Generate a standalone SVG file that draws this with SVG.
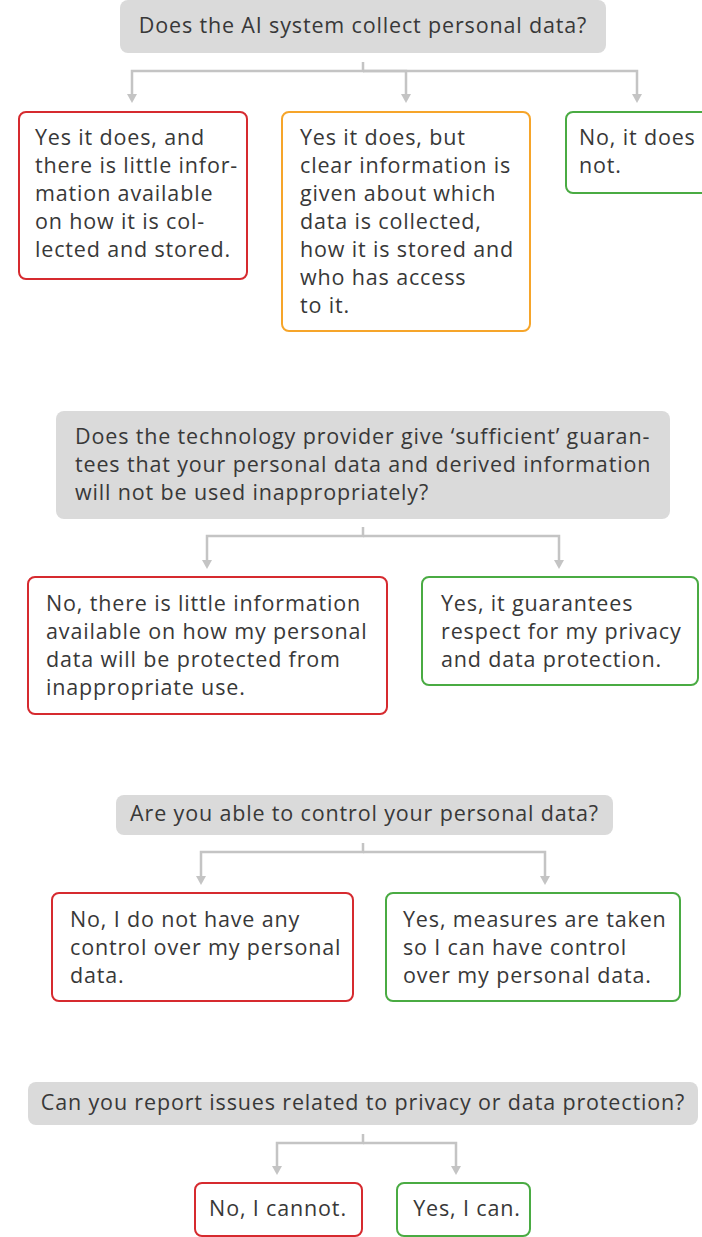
<svg xmlns="http://www.w3.org/2000/svg" width="702" height="1237" viewBox="0 0 702 1237">
<style>
text{font-family:"Open Sans","Liberation Sans",sans-serif;font-size:21.5px;letter-spacing:0.85px;fill:#383838}
.q{fill:#dadada;stroke:none}
.r{fill:#fff;stroke:#d62a2f;stroke-width:2}
.o{fill:#fff;stroke:#f6a52a;stroke-width:2}
.g{fill:#fff;stroke:#4aab43;stroke-width:2}
.c{fill:none;stroke:#c4c4c4;stroke-width:2.5}
.m{text-anchor:middle}
</style>
<defs>
<marker id="ah" viewBox="0 -5 9 10" refX="1" refY="0" markerWidth="9" markerHeight="10" markerUnits="userSpaceOnUse" orient="auto">
<path d="M0,-5 L9,0 L0,5 z" fill="#c4c4c4"/>
</marker>
</defs>
<g id="connectors">
<path class="c" d="M363,62 V71 H132 V95" marker-end="url(#ah)"/>
<path class="c" d="M363,71 H406 V95" marker-end="url(#ah)"/>
<path class="c" d="M363,71 H637 V95" marker-end="url(#ah)"/>
<path class="c" d="M363,527 V536 H207 V561" marker-end="url(#ah)"/>
<path class="c" d="M363,536 H559 V561" marker-end="url(#ah)"/>
<path class="c" d="M363,843 V852 H201 V877" marker-end="url(#ah)"/>
<path class="c" d="M363,852 H545 V877" marker-end="url(#ah)"/>
<path class="c" d="M363,1134 V1143 H277 V1167" marker-end="url(#ah)"/>
<path class="c" d="M363,1143 H456 V1167" marker-end="url(#ah)"/>
</g>
<g id="q1">
<rect class="q" x="120" y="0" width="486" height="53" rx="8"/>
<text class="m" x="363" y="33">Does the AI system collect personal data?</text>
</g>
<g id="a1">
<rect class="r" x="19" y="112" width="228" height="167" rx="7"/>
<text x="35" y="145">Yes it does, and</text>
<text x="35" y="173">there is little infor-</text>
<text x="35" y="201">mation available</text>
<text x="35" y="229">on how it is col-</text>
<text x="35" y="257">lected and stored.</text>
</g>
<g id="a2">
<rect class="o" x="282" y="112" width="248" height="219" rx="7"/>
<text x="300" y="145">Yes it does, but</text>
<text x="300" y="173">clear information is</text>
<text x="300" y="201">given about which</text>
<text x="300" y="229">data is collected,</text>
<text x="300" y="257">how it is stored and</text>
<text x="300" y="285">who has access</text>
<text x="300" y="313">to it.</text>
</g>
<g id="a3">
<rect class="g" x="566" y="112" width="150" height="81" rx="7"/>
<text x="579" y="145">No, it does</text>
<text x="579" y="173">not.</text>
</g>
<g id="q2">
<rect class="q" x="56" y="411" width="614" height="108" rx="8"/>
<text x="75" y="444">Does the technology provider give ‘sufficient’ guaran-</text>
<text x="75" y="472">tees that your personal data and derived information</text>
<text x="75" y="500">will not be used inappropriately?</text>
</g>
<g id="b1">
<rect class="r" x="28" y="577" width="359" height="137" rx="7"/>
<text x="46" y="611">No, there is little information</text>
<text x="46" y="639">available on how my personal</text>
<text x="46" y="667">data will be protected from</text>
<text x="46" y="695">inappropriate use.</text>
</g>
<g id="b2">
<rect class="g" x="422" y="577" width="276" height="108" rx="7"/>
<text x="441" y="611">Yes, it guarantees</text>
<text x="441" y="639">respect for my privacy</text>
<text x="441" y="667">and data protection.</text>
</g>
<g id="q3">
<rect class="q" x="116" y="795" width="497" height="40" rx="8"/>
<text class="m" x="364.5" y="821">Are you able to control your personal data?</text>
</g>
<g id="c1">
<rect class="r" x="52" y="893" width="301" height="108" rx="7"/>
<text x="70" y="927">No, I do not have any</text>
<text x="70" y="955">control over my personal</text>
<text x="70" y="983">data.</text>
</g>
<g id="c2">
<rect class="g" x="386" y="893" width="294" height="108" rx="7"/>
<text x="403" y="927">Yes, measures are taken</text>
<text x="403" y="955">so I can have control</text>
<text x="403" y="983">over my personal data.</text>
</g>
<g id="q4">
<rect class="q" x="28" y="1082" width="670" height="43" rx="8"/>
<text class="m" x="363" y="1110">Can you report issues related to privacy or data protection?</text>
</g>
<g id="d1">
<rect class="r" x="195" y="1183" width="167" height="53" rx="7"/>
<text class="m" x="278" y="1216">No, I cannot.</text>
</g>
<g id="d2">
<rect class="g" x="397" y="1183" width="133" height="53" rx="7"/>
<text class="m" x="467" y="1216">Yes, I can.</text>
</g>
</svg>
